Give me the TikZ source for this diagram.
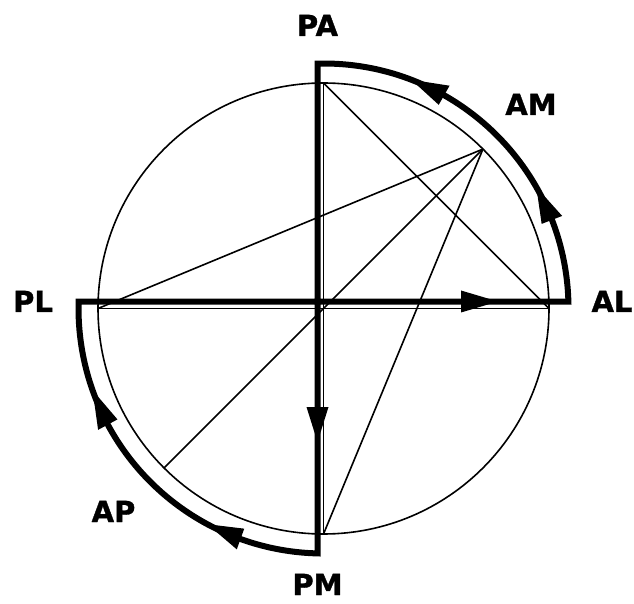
\documentclass[tikz,border=0pt]{standalone}
\usepackage{fontspec}
\newfontfamily\lblfont{DejaVu Sans}[BoldFeatures={FakeBold=1.2}]
\usetikzlibrary{calc}
\begin{document}
\begin{tikzpicture}[x=1pt,y=1pt,
  thinline/.style={line width=1.6pt},
  thickline/.style={line width=6pt,line join=miter},
  lbl/.style={anchor=base,inner sep=0pt,font=\lblfont\bfseries\fontsize{29}{29}\selectfont},
  head/.style={fill=black,draw=none}]
\useasboundingbox (0,0) rectangle (634,603);
\coordinate (C) at (323.5,294.5);
\def\r{225.5}
\def\R{245}
% points on the circle
\coordinate (P0) at ($(C)+(0:\r)$);
\coordinate (P45) at ($(C)+(45:\r)$);
\coordinate (P90) at ($(C)+(90:\r)$);
\coordinate (P180) at ($(C)+(180:\r)$);
\coordinate (P225) at ($(C)+(225:\r)$);
\coordinate (P270) at ($(C)+(270:\r)$);
% thin circle and chords
\draw[thinline] (C) circle[radius=\r];
\draw[thinline] (P180) -- (P0);
\draw[thinline] (P90) -- (P270);
\draw[thinline] (P90) -- (P0);
\draw[thinline] (P45) -- (P180);
\draw[thinline] (P45) -- (P225);
\draw[thinline] (P45) -- (P270);
% thick frame
\coordinate (AL) at ($(C)+(1.637:\R)$);
\coordinate (PA) at ($(C)+(91.403:\R)$);
\coordinate (PM) at ($(C)+(268.597:\R)$);
\coordinate (PL) at ($(C)+(178.363:\R)$);
\draw[thickline] (AL) arc[start angle=1.637,end angle=91.403,radius=\R]
  -- (PM) arc[start angle=268.597,end angle=178.363,radius=\R] -- cycle;
% arrowheads on straight lines
\fill[head] (498,301.5) -- (461,312.5) -- (461,290.5) -- cycle;
\fill[head] (317.5,161) -- (306.5,196) -- (328.5,196) -- cycle;
% arrowheads on arcs
\fill[head] ($(C)+(69:\R)$) -- ($(C)+(60.5:234)$) -- ($(C)+(60.5:256)$) -- cycle;
\fill[head] ($(C)+(29.7:\R)$) -- ($(C)+(21.2:234)$) -- ($(C)+(21.2:256)$) -- cycle;
\fill[head] ($(C)+(199.5:\R)$) -- ($(C)+(208.3:234)$) -- ($(C)+(208.3:256)$) -- cycle;
\fill[head] ($(C)+(241.7:\R)$) -- ($(C)+(250.2:234)$) -- ($(C)+(250.2:256)$) -- cycle;
% labels
\node[lbl] (tPA) at (317.5,567) {PA};
\node[lbl] (tPM) at (317.5,8) {PM};
\node[lbl] (tPL) at (33,291) {PL};
\node[lbl] (tAL) at (612,291) {AL};
\node[lbl] (tAM) at (531,488) {AM};
\node[lbl] (tAP) at (113.5,81) {AP};
\end{tikzpicture}
\end{document}
